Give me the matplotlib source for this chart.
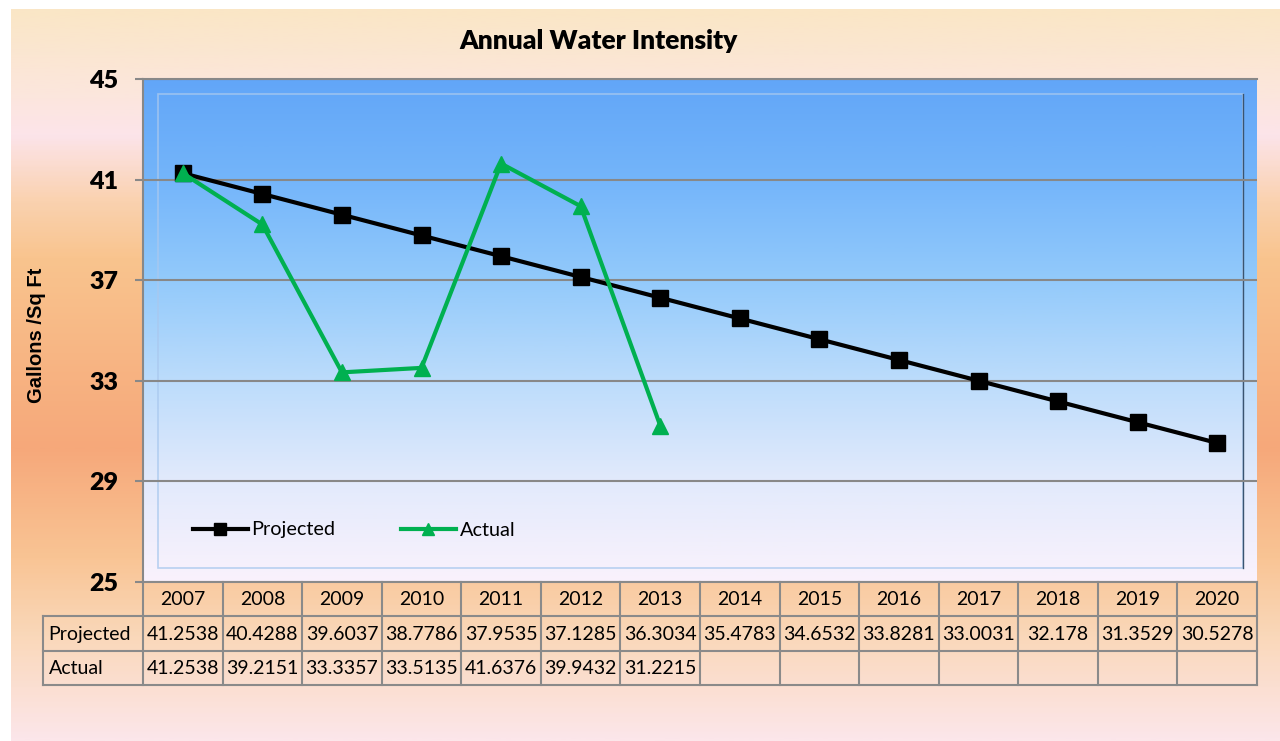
import numpy as np
import matplotlib.pyplot as plt
from matplotlib import colors
from matplotlib.patches import Rectangle

# chart data
years = ['2007', '2008', '2009', '2010', '2011', '2012', '2013',
         '2014', '2015', '2016', '2017', '2018', '2019', '2020']
projected = [41.2538, 40.4288, 39.6037, 38.7786, 37.9535, 37.1285, 36.3034,
             35.4783, 34.6532, 33.8281, 33.0031, 32.178, 31.3529, 30.5278]
actual = [41.2538, 39.2151, 33.3357, 33.5135, 41.6376, 39.9432, 31.2215]
actual_txt = ['41.2538', '39.2151', '33.3357', '33.5135', '41.6376', '39.9432', '31.2215']
yticks = [25, 29, 33, 37, 41, 45]

plt.rcParams['font.family'] = ['Lato', 'DejaVu Sans']

W, H = 1280, 741
fig = plt.figure(figsize=(W / 100, H / 100), dpi=100)
fig.patch.set_facecolor('white')


def fx(px):
    return px / W


def fy(py):
    return 1 - py / H


# page background gradient (vertical)
bg = fig.add_axes([fx(11), 0, 1 - fx(11), fy(9)])
bg.set_axis_off()
stops = [(0.0, '#FAE6C6'), (0.12, '#FCE6DE'), (0.17, '#FCE4EA'), (0.26, '#FAD2B0'),
         (0.34, '#F9C48E'), (0.60, '#F6A87A'), (0.75, '#F9C494'), (0.86, '#FAD8BA'),
         (1.0, '#FCE6EA')]
cmap_bg = colors.LinearSegmentedColormap.from_list('bg', stops)
grad = np.linspace(0, 1, 400).reshape(-1, 1)
bg.imshow(grad, aspect='auto', cmap=cmap_bg, extent=[0, 1, 1, 0])
bg.set_xlim(0, 1)
bg.set_ylim(1, 0)

# main plot
ax = fig.add_axes([fx(143), fy(582), fx(1257) - fx(143), fy(79) - fy(582)])
ax.set_facecolor('none')
pstops = [(0.0, '#62A6F8'), (0.2, '#74B5FA'), (0.4, '#93CAFB'), (0.6, '#BCDCFB'),
          (0.8, '#E2EAFC'), (1.0, '#FAF2FC')]
cmap_p = colors.LinearSegmentedColormap.from_list('plot', pstops)
ax.imshow(grad, aspect='auto', cmap=cmap_p, extent=[0, 1, 0, 1],
          transform=ax.transAxes, zorder=0)

# inner frame
ix0 = (158 - 143) / (1257 - 143)
ix1 = (1243 - 143) / (1257 - 143)
iy0 = (582 - 568) / (582 - 79)
iy1 = (582 - 94) / (582 - 79)
ax.add_patch(Rectangle((ix0, iy0), ix1 - ix0, iy1 - iy0, transform=ax.transAxes,
                       fill=False, edgecolor='#A9C8EE', lw=1.2, alpha=0.8, zorder=1))
ax.plot([ix1, ix1], [iy0, iy1], transform=ax.transAxes, color='#3A5470', lw=1, zorder=1)

x = np.arange(len(years))
ax.set_xlim(-0.5, len(years) - 0.5)
ax.set_ylim(25, 45)
ax.set_yticks(yticks)
ax.set_yticklabels([str(t) for t in yticks], fontsize=18, fontweight='heavy')
ax.tick_params(axis='y', length=6, width=1.5, color='#888888', pad=12)
ax.tick_params(axis='x', bottom=False, labelbottom=False)
ax.grid(axis='y', color='#888888', lw=1.5, zorder=2)
for s in ['right', 'bottom']:
    ax.spines[s].set_visible(False)
for s in ['left', 'top']:
    ax.spines[s].set_color('#888888')
    ax.spines[s].set_linewidth(1.5)

ax.plot(x, projected, color='black', lw=3, marker='s', markersize=11,
        label='Projected', zorder=4)
ax.plot(x[:len(actual)], actual, color='#00B050', lw=3, marker='^', markersize=12,
        label='Actual', zorder=5)

leg = ax.legend(loc='center left', bbox_to_anchor=((193 - 143) / (1257 - 143), (582 - 530) / (582 - 79)),
                ncol=2, frameon=False, fontsize=14.3, handlelength=2.75, columnspacing=3.3,
                handletextpad=0.2, borderpad=0, borderaxespad=0, markerscale=0.75)

fig.text(fx(36), fy(335), 'Gallons /Sq Ft', rotation=90, ha='center', va='center',
         fontsize=14.5, fontweight='bold', family='Liberation Sans')

fig.text(fx(599), fy(41), 'Annual Water Intensity', ha='center', va='center',
         fontsize=19, fontweight='heavy')

# data table under the plot
tax = fig.add_axes([fx(143), fy(685), fx(1257) - fx(143), fy(582) - fy(685)])
tax.set_axis_off()
tax.set_xlim(-0.5, len(years) - 0.5)
tax.set_ylim(3, 0)
lab0 = -0.5 - 100 / ((1257 - 143) / len(years))
gc = '#8A8A8A'
tax.plot([-0.5, len(years) - 0.5], [0, 0], color=gc, lw=1.5, clip_on=False)
for r in [1, 2, 3]:
    tax.plot([lab0, len(years) - 0.5], [r, r], color=gc, lw=1.5, clip_on=False)
tax.plot([lab0, lab0], [1, 3], color=gc, lw=1.5, clip_on=False)
for i in range(len(years) + 1):
    tax.plot([i - 0.5, i - 0.5], [0, 3], color=gc, lw=1.5, clip_on=False)

for i, yr in enumerate(years):
    tax.text(i, 0.52, yr, ha='center', va='center', fontsize=14)
    tax.text(i, 1.52, f'{projected[i]:g}', ha='center', va='center', fontsize=14)
for i, v in enumerate(actual_txt):
    tax.text(i, 2.52, v, ha='center', va='center', fontsize=14)
tax.text(lab0 + 0.07, 1.52, 'Projected', ha='left', va='center', fontsize=14, clip_on=False)
tax.text(lab0 + 0.07, 2.52, 'Actual', ha='left', va='center', fontsize=14, clip_on=False)

fig.savefig('out.png', dpi=100, facecolor=fig.get_facecolor())
